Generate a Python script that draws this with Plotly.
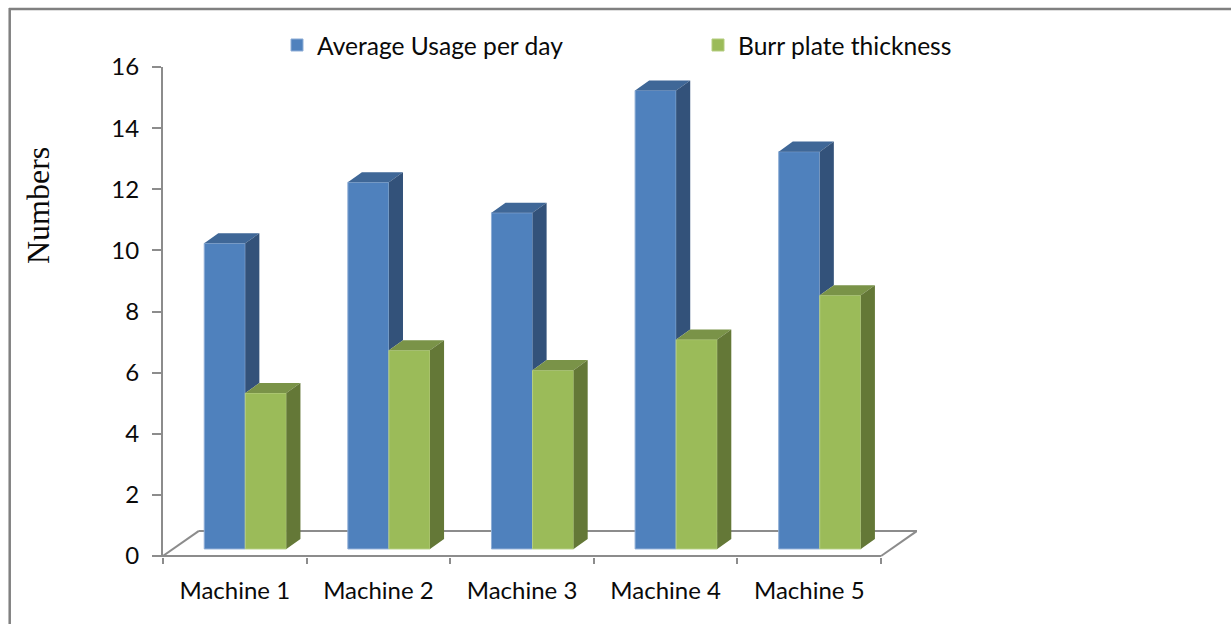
import plotly.graph_objects as go

# Chart data
machines = ["Machine 1", "Machine 2", "Machine 3", "Machine 4", "Machine 5"]
average_usage = [10, 12, 11, 15, 13]
burr_thickness = [5.1, 6.5, 5.85, 6.85, 8.3]

# Pseudo-3D geometry, in axis units
BAR_W = 0.286
BAR_SHIFT = 0.073  # columns stand slightly right of each category centre
LIFT = 0.23        # front of the bars sits above the floor's front edge
DX = 0.098         # depth of a column along x
DY = 0.33          # depth of a column along y
FLOOR_DX = 0.25
FLOOR_DY = 0.82

BLUE, BLUE_TOP, BLUE_SIDE, BLUE_EDGE = "#4F81BD", "#3F6797", "#33527A", "#8FAED6"
GREEN, GREEN_TOP, GREEN_SIDE, GREEN_EDGE = "#9BBB59", "#7A9348", "#647837", "#B5CD80"
GREY = "#8C8C8C"
FRAME = "#808080"
INK = "#0A0A0A"

# Figure layout in pixels
W, H = 1231, 624
LEFT, RIGHT, TOP, BOTTOM = 163, 917, 67, 557


def px(x):
    return (x - LEFT) / (RIGHT - LEFT)


def py(y):
    return (BOTTOM - y) / (BOTTOM - TOP)


def faces(values, bottoms, left_of_centre):
    """Top and right-hand faces of a series, as None-separated polygons."""
    top_x, top_y, side_x, side_y = [], [], [], []
    for i, (v, b) in enumerate(zip(values, bottoms)):
        x0 = i + BAR_SHIFT - (BAR_W if left_of_centre else 0)
        x1 = x0 + BAR_W
        y1 = v + LIFT
        top_x += [x0, x0 + DX, x1 + DX, x1, x0, None]
        top_y += [y1, y1 + DY, y1 + DY, y1, y1, None]
        y0 = b + LIFT
        side_x += [x1, x1 + DX, x1 + DX, x1, x1, None]
        side_y += [y0, y0 + DY, y1 + DY, y1, y0, None]
    return top_x, top_y, side_x, side_y


def face_trace(x, y, colour):
    return go.Scatter(x=x, y=y, mode="lines", fill="toself", fillcolor=colour,
                      line=dict(width=0), showlegend=False, hoverinfo="skip")


fig = go.Figure()

positions = list(range(len(machines)))
fig.add_bar(x=positions, y=average_usage, base=LIFT, name="Average Usage per day",
            marker=dict(color=BLUE, line=dict(width=1, color=BLUE_EDGE)), legend="legend",
            width=BAR_W, offset=BAR_SHIFT - BAR_W)
fig.add_bar(x=positions, y=burr_thickness, base=LIFT, name="Burr plate thickness",
            marker=dict(color=GREEN, line=dict(width=1, color=GREEN_EDGE)), legend="legend2",
            width=BAR_W, offset=BAR_SHIFT)

# The blue side face stops where the green column in front of it begins
tx, ty, sx, sy = faces(average_usage, burr_thickness, True)
fig.add_trace(face_trace(tx, ty, BLUE_TOP))
fig.add_trace(face_trace(sx, sy, BLUE_SIDE))
tx, ty, sx, sy = faces(burr_thickness, [0] * len(machines), False)
fig.add_trace(face_trace(tx, ty, GREEN_TOP))
fig.add_trace(face_trace(sx, sy, GREEN_SIDE))

x_lo, x_hi = -0.5, len(machines) - 0.5
floor = dict(type="line", xref="x", yref="y", layer="below",
             line=dict(color=GREY, width=2))
frame = dict(type="line", xref="paper", yref="paper", line=dict(color=FRAME, width=2.5))
legend_style = dict(orientation="h", yanchor="middle", xanchor="left",
                    font=dict(size=24.6), bgcolor="rgba(0,0,0,0)")

fig.update_layout(
    width=W, height=H,
    margin=dict(l=LEFT, r=W - RIGHT, t=TOP, b=H - BOTTOM, autoexpand=False),
    paper_bgcolor="white", plot_bgcolor="white",
    barmode="overlay", showlegend=True,
    font=dict(family="Lato", color=INK),
    legend=dict(legend_style, x=px(277), y=py(45)),
    legend2=dict(legend_style, x=px(698), y=py(45)),
    shapes=[
        dict(floor, x0=x_lo, y0=0, x1=x_hi, y1=0),
        dict(floor, x0=x_lo, y0=0, x1=x_lo + FLOOR_DX, y1=FLOOR_DY),
        dict(floor, x0=x_lo + FLOOR_DX, y0=FLOOR_DY, x1=x_hi + FLOOR_DX, y1=FLOOR_DY),
        dict(floor, x0=x_hi, y0=0, x1=x_hi + FLOOR_DX, y1=FLOOR_DY),
        # Frame along the top and left of the figure
        dict(frame, x0=px(9.7), x1=px(9.7), y0=py(624), y1=py(8)),
        dict(frame, x0=px(9), x1=px(1231), y0=py(9), y1=py(9)),
    ],
    annotations=[dict(text="Numbers", xref="paper", yref="paper", x=px(38), y=py(206),
                      xanchor="center", yanchor="middle", textangle=-90, showarrow=False,
                      font=dict(family="Liberation Serif", size=32, color=INK))],
    xaxis=dict(range=[x_lo, x_hi + FLOOR_DX], tickvals=positions, ticktext=machines, ticks="",
               showgrid=False, zeroline=False, showline=False,
               tickfont=dict(size=24), ticklabelstandoff=17,
               minor=dict(tickvals=[x_lo + i for i in range(len(machines) + 1)],
                          ticks="outside", ticklen=6, tickcolor=GREY, tickwidth=2,
                          showgrid=False)),
    yaxis=dict(range=[-0.033, 16], tickvals=list(range(0, 17, 2)), ticks="outside", ticklen=9,
               tickcolor=GREY, tickwidth=2, showgrid=False, zeroline=False, showline=True,
               linecolor=GREY, linewidth=2, tickfont=dict(size=24), ticklabelstandoff=8),
)

fig.write_html("out.html")
